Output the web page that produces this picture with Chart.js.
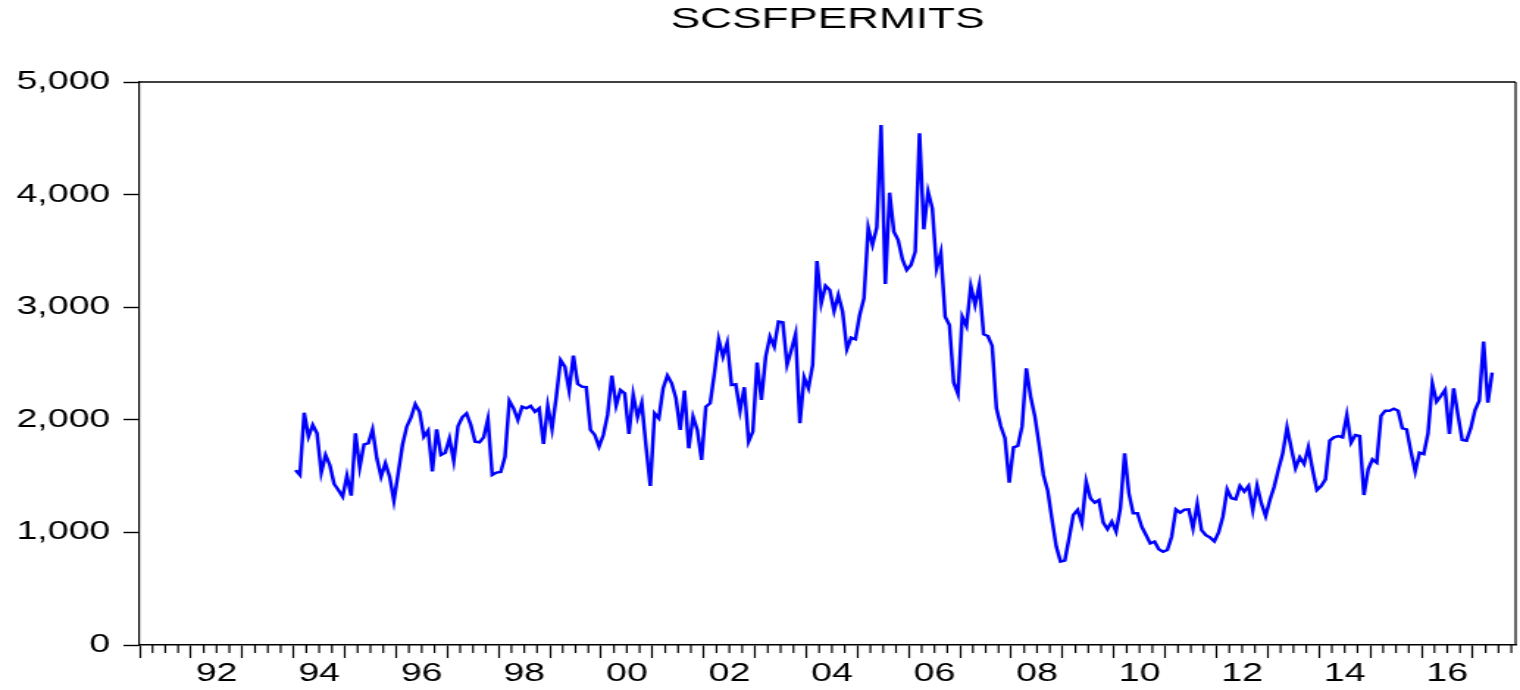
<!DOCTYPE html>
<html>
<head>
<meta charset="utf-8">
<title>SCSFPERMITS</title>
<script src="https://cdn.jsdelivr.net/npm/chart.js@4.4.1/dist/chart.umd.min.js"></script>
<style>
  html, body { margin: 0; padding: 0; background: #fff; overflow: hidden; }
  /* the EViews picture is stretched sideways, so the whole canvas is too */
  #wrap { width: 1034px; height: 690px; transform: scaleX(1.47002); transform-origin: 0 0; }
</style>
</head>
<body>
<div id="wrap"><canvas id="chart" width="1034" height="690"></canvas></div>
<script>
// monthly series, first observation 1994M01, last 2017M05
const seriesName = 'SCSFPERMITS';
const axisStartYear = 1991;
const firstObsYear = 1994;
const permits = [
  1554, 1510, 2063, 1850, 1954, 1880, 1531, 1688, 1599, 1430, 1377, 1318,
  1504, 1326, 1880, 1578, 1782, 1791, 1915, 1658, 1495, 1614, 1495, 1282,
  1525, 1776, 1939, 2022, 2140, 2072, 1850, 1904, 1542, 1915, 1688, 1708,
  1835, 1637, 1945, 2022, 2057, 1954, 1806, 1800, 1844, 2007, 1510, 1531,
  1537, 1673, 2170, 2102, 1998, 2117, 2102, 2123, 2072, 2102, 1785, 2123,
  1918, 2205, 2531, 2472, 2259, 2570, 2318, 2294, 2290, 1910, 1865, 1762,
  1865, 2043, 2392, 2126, 2265, 2235, 1874, 2221, 2022, 2152, 1762, 1412,
  2058, 2013, 2280, 2392, 2324, 2191, 1910, 2259, 1747, 2028, 1910, 1643,
  2117, 2147, 2413, 2715, 2561, 2685, 2309, 2315, 2081, 2289, 1806, 1895,
  2508, 2176, 2561, 2739, 2650, 2872, 2866, 2487, 2620, 2762, 1969, 2377,
  2280, 2487, 3410, 3034, 3191, 3153, 2966, 3108, 2960, 2626, 2730, 2715,
  2931, 3079, 3706, 3553, 3709, 4618, 3206, 4017, 3671, 3597, 3425, 3330,
  3375, 3493, 4544, 3692, 4026, 3878, 3345, 3487, 2916, 2842, 2330, 2229,
  2916, 2833, 3188, 3020, 3197, 2759, 2744, 2656, 2102, 1945, 1836, 1442,
  1756, 1768, 1939, 2457, 2206, 2028, 1777, 1510, 1371, 1116, 874, 741,
  749, 948, 1155, 1199, 1081, 1451, 1303, 1264, 1288, 1087, 1028, 1096,
  1007, 1214, 1702, 1347, 1170, 1170, 1051, 977, 903, 918, 850, 829,
  844, 962, 1205, 1176, 1202, 1205, 1036, 1252, 1020, 975, 955, 920,
  1000, 1140, 1383, 1303, 1294, 1412, 1362, 1412, 1199, 1415, 1258, 1146,
  1288, 1406, 1560, 1702, 1933, 1747, 1569, 1667, 1608, 1756, 1554, 1377,
  1412, 1471, 1815, 1844, 1856, 1844, 2043, 1797, 1865, 1856, 1332, 1560,
  1649, 1619, 2034, 2081, 2081, 2099, 2081, 1924, 1915, 1717, 1540, 1708,
  1696, 1880, 2324, 2161, 2211, 2265, 1874, 2280, 2043, 1821, 1815, 1924,
  2087, 2170, 2694, 2152, 2419
];
const xLabelYears = [1992, 1994, 1996, 1998, 2000, 2002, 2004, 2006, 2008, 2010, 2012, 2014, 2016];
const yTicks = [0, 1000, 2000, 3000, 4000, 5000];

const monthsShown = 322; // 1991M01 .. 2017M10
const firstIdx = (firstObsYear - axisStartYear) * 12;
const points = permits.map((v, i) => ({ x: firstIdx + i + 0.5, y: v }));
const fontFam = '"Liberation Sans", Arial, sans-serif';

const frameAndTicks = {
  id: 'frameAndTicks',
  afterDraw(chart) {
    const { ctx, chartArea } = chart;
    const xs = chart.scales.x;
    ctx.save();
    ctx.strokeStyle = '#000';
    // quarterly minor ticks
    ctx.lineWidth = 1.2;
    for (let m = 3; m < monthsShown; m += 3) {
      if (m % 12 === 0) continue;
      const px = xs.getPixelForValue(m);
      ctx.beginPath();
      ctx.moveTo(px, chartArea.bottom);
      ctx.lineTo(px, chartArea.bottom + 8);
      ctx.stroke();
    }
    // top and right side of the box
    ctx.lineWidth = 1.5;
    ctx.beginPath();
    ctx.moveTo(chartArea.left, chartArea.top);
    ctx.lineTo(chartArea.right, chartArea.top);
    ctx.stroke();
    ctx.lineWidth = 1.2;
    ctx.beginPath();
    ctx.moveTo(chartArea.right, chartArea.top);
    ctx.lineTo(chartArea.right, chartArea.bottom);
    ctx.stroke();
    ctx.restore();
  }
};

new Chart(document.getElementById('chart'), {
  type: 'line',
  data: {
    datasets: [{
      label: seriesName,
      data: points,
      borderColor: '#0000ff',
      borderWidth: 2.5,
      pointRadius: 0,
      tension: 0,
      fill: false
    }]
  },
  options: {
    responsive: false,
    animation: false,
    layout: { padding: { left: 0, right: 3, top: 0, bottom: 0 } },
    plugins: {
      legend: { display: false },
      tooltip: { enabled: false },
      title: {
        display: true,
        text: seriesName,
        fullSize: false,
        color: '#000',
        font: { family: fontFam, size: 30, weight: 'normal', lineHeight: 1.2 },
        padding: { top: 2, bottom: 44 }
      }
    },
    scales: {
      x: {
        type: 'linear',
        min: 0,
        max: monthsShown,
        afterBuildTicks(scale) {
          const t = [];
          for (let m = 0; m <= monthsShown; m += 3) t.push({ value: m });
          scale.ticks = t;
        },
        afterFit(scale) { scale.height = 45; },
        ticks: {
          autoSkip: false,
          maxRotation: 0,
          minRotation: 0,
          padding: 1,
          color: '#000',
          font: { family: fontFam, size: 25.5 },
          callback(value) {
            if (value % 12 !== 6) return '';
            const yr = axisStartYear + Math.floor(value / 12);
            return xLabelYears.includes(yr) ? String(yr).slice(2) : '';
          }
        },
        grid: {
          drawOnChartArea: false,
          drawTicks: true,
          tickLength: 13,
          tickWidth: 1.2,
          tickColor: (c) => (c.tick && c.tick.value % 12 === 0 ? '#000' : 'rgba(0,0,0,0)')
        },
        border: { display: true, color: '#000', width: 1.5 }
      },
      y: {
        min: 0,
        max: 5000,
        afterBuildTicks(scale) { scale.ticks = yTicks.map(v => ({ value: v })); },
        afterFit(scale) { scale.width = 95; },
        ticks: {
          padding: 9,
          color: '#000',
          font: { family: fontFam, size: 25.5 },
          callback: (v) => v.toLocaleString('en-US')
        },
        grid: {
          drawOnChartArea: false,
          drawTicks: true,
          tickLength: 11,
          tickWidth: 1.4,
          tickColor: '#000'
        },
        border: { display: true, color: '#000', width: 1.2 }
      }
    }
  },
  plugins: [frameAndTicks]
});
</script>
</body>
</html>
